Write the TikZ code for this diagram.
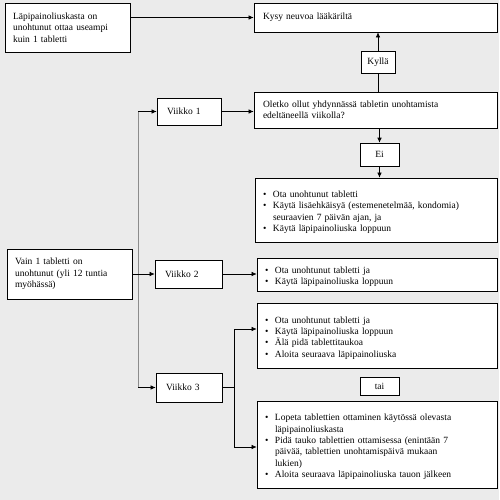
\documentclass[tikz,border=0pt]{standalone}
\usepackage{fontspec}
\setmainfont{Liberation Serif}
\usetikzlibrary{arrows.meta,shadows}
\newcommand{\bitem}{\par\hangindent=10pt\hangafter=1\noindent\makebox[10pt][l]{\textbullet}}
\newcommand{\nl}{\hfil\break}
\begin{document}
\begin{tikzpicture}[x=1pt,y=-1pt,
  txt/.style={font=\fontsize{9.5}{11.4}\selectfont},
  box/.style={txt, draw=black, fill=white, line width=0.7pt, inner xsep=8pt, inner ysep=1pt, align=left,
    drop shadow={shadow xshift=1pt, shadow yshift=-1pt, fill=gray!70, opacity=1}},
  lbl/.style={txt, draw=black, fill=white, line width=0.6pt, inner sep=0pt, align=center,
    drop shadow={shadow xshift=1pt, shadow yshift=-1pt, fill=gray!70, opacity=1}},
  arr/.style={-{Latex[length=5pt,width=4.5pt]}, line width=0.6pt},
  con/.style={line width=0.6pt},
  trunk/.style={line width=0.8pt, draw=gray!90}]
\fill[fill={rgb,255:red,235;green,235;blue,235}] (0,0) rectangle (499,500);
\useasboundingbox (0,0) rectangle (499,500);

\node[box, minimum width=125pt, minimum height=49pt, text width=109pt] (b1) at (67.5,27.5)
  {Läpipainoliuskasta on\nl unohtunut ottaa useampi\nl kuin 1 tabletti};
\node[box, minimum width=243pt, minimum height=29pt, text width=225pt, inner xsep=9pt] (kysy) at (375.5,17.5)
  {Kysy neuvoa lääkäriltä};
\node[lbl, minimum width=34pt, minimum height=22pt] (kylla) at (378,62) {Kyllä};
\node[box, minimum width=243pt, minimum height=36pt, text width=225pt, inner xsep=9pt] (oletko) at (375.5,110)
  {Oletko ollut yhdynnässä tabletin unohtamista\nl edeltäneellä viikolla?};
\node[box, minimum width=64pt, minimum height=27pt, text width=44pt, inner xsep=10pt] (v1) at (189,111.5) {Viikko 1};
\node[lbl, minimum width=39pt, minimum height=23pt] (ei) at (379.5,154.5) {Ei};
\node[box, minimum width=242pt, minimum height=64pt, text width=226pt] (b3) at (376,210)
  {\bitem Ota unohtunut tabletti
   \bitem Käytä lisäehkäisyä (estemenetelmää, kondomia)\nl seuraavien 7 päivän ajan, ja
   \bitem Käytä läpipainoliuska loppuun};
\node[box, minimum width=125pt, minimum height=50pt, text width=109pt] (vain) at (69.5,274)
  {Vain 1 tabletti on\nl unohtunut (yli 12 tuntia\nl myöhässä)};
\node[box, minimum width=67pt, minimum height=28pt, text width=47pt, inner xsep=10pt] (v2) at (188.5,274) {Viikko 2};
\node[box, minimum width=240pt, minimum height=33pt, text width=224pt] (b4) at (377,274.5)
  {\bitem Ota unohtunut tabletti ja
   \bitem Käytä läpipainoliuska loppuun};
\node[box, minimum width=240pt, minimum height=65pt, text width=224pt] (b5) at (377,335.5)
  {\bitem Ota unohtunut tabletti ja
   \bitem Käytä läpipainoliuska loppuun
   \bitem Älä pidä tablettitaukoa
   \bitem Aloita seuraava läpipainoliuska};
\node[box, minimum width=66pt, minimum height=29pt, text width=46pt, inner xsep=10pt] (v3) at (189,387.5) {Viikko 3};
\node[lbl, minimum width=39pt, minimum height=18pt] (tai) at (379.5,386) {tai};
\node[box, minimum width=240pt, minimum height=87pt, text width=224pt] (b6) at (377,444.5)
  {\bitem Lopeta tablettien ottaminen käytössä olevasta\nl läpipainoliuskasta
   \bitem Pidä tauko tablettien ottamisessa (enintään 7\nl päivää, tablettien unohtamispäivä mukaan\nl lukien)
   \bitem Aloita seuraava läpipainoliuska tauon jälkeen};

% connectors
\draw[arr] (b1.east |- kysy.west) -- (kysy.west);
\draw[arr] (kylla.north) -- (kysy.south -| kylla.north);
\draw[con] (oletko.north -| kylla.south) -- (kylla.south);
\draw[arr] (oletko.south -| ei.north) -- (ei.north);
\draw[arr] (ei.south) -- (b3.north -| ei.south);
\draw[arr] (v1.east) -- (oletko.west |- v1.east);

\coordinate (tt) at (138,111.5);
\coordinate (tb) at (138,387.5);
\draw[trunk] (tt) -- (tb);
\draw[arr] (tt) -- (v1.west);
\draw[arr] (tb) -- (v3.west);
\draw[arr] (vain.east) -- (v2.west);
\draw[arr] (v2.east) -- (b4.west |- v2.east);

\coordinate (sp) at (234,387.5);
\coordinate (s5) at (234,329);
\coordinate (s6) at (234,447);
\draw[con] (v3.east) -- (sp);
\draw[con] (s5) -- (s6);
\draw[arr] (s5) -- (s5 -| b5.west);
\draw[arr] (s6) -- (s6 -| b6.west);
\end{tikzpicture}
\end{document}
